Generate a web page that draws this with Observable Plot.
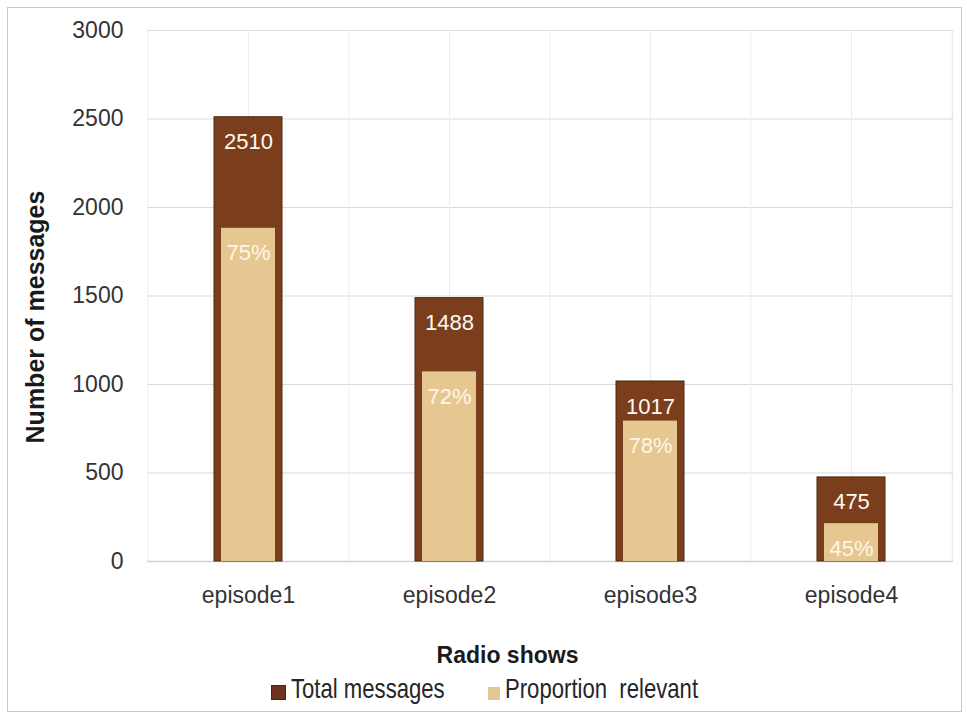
<!DOCTYPE html>
<html>
<head>
<meta charset="utf-8">
<script src="https://cdn.jsdelivr.net/npm/d3@7"></script>
<script src="https://cdn.jsdelivr.net/npm/@observablehq/plot@0.6"></script>
<style>
  html, body { margin: 0; padding: 0; background: #fff; }
  #wrap { position: relative; width: 967px; height: 719px; overflow: hidden; font-family: "Liberation Sans", Arial, sans-serif; }
  #frame { position: absolute; left: 7px; top: 7px; width: 955px; height: 705px; border: 1px solid #c9c9c9; box-sizing: border-box; pointer-events: none; }
  #chart svg { display: block; }
  #legend { position: absolute; left: 0; top: 670px; width: 967px; height: 49px; }
  .sw { position: absolute; box-sizing: border-box; }
  .lt { position: absolute; font-size: 28px; line-height: 28px; color: #262626; white-space: pre; transform: scaleX(0.79); transform-origin: left top; }
</style>
</head>
<body>
<div id="wrap">
  <div id="chart"></div>
  <div id="legend"></div>
  <div id="frame"></div>
</div>
<script>
const episodes = ["episode1", "episode2", "episode3", "episode4"];
const totals = [2510, 1488, 1017, 475];
const percents = [75, 72, 78, 45];
const yTicks = [0, 500, 1000, 1500, 2000, 2500, 3000];
const seriesNames = ["Total messages", "Proportion  relevant"];
const xTitle = "Radio shows";
const yTitle = "Number of messages";

const darkColor = "#7a3e1c";
const lightColor = "#e6c792";

const data = episodes.map((e, i) => ({
  episode: e,
  total: totals[i],
  pct: percents[i],
  relevant: totals[i] * percents[i] / 100
}));

const W = 967, H = 670, mL = 147, mR = 14, mT = 30, mB = 109;
const step = (W - mL - mR) / episodes.length;
const font = "'Liberation Sans', Arial, sans-serif";

const chart = Plot.plot({
  width: W,
  height: H,
  marginLeft: mL,
  marginRight: mR,
  marginTop: mT,
  marginBottom: mB,
  style: { fontFamily: font, fontSize: "23px", background: "white", overflow: "visible" },
  x: { domain: episodes, paddingInner: 0.66, paddingOuter: 0.33, label: null },
  y: { domain: [0, 3000], label: null },
  marks: [
    Plot.gridY(yTicks, { stroke: "#dadada", strokeOpacity: 1, strokeWidth: 1.2 }),
    Plot.ruleX(episodes, { x: d => d, stroke: "#ececec", strokeWidth: 1 }),
    Plot.ruleX(episodes, { x: d => d, dx: -step / 2, stroke: "#ececec", strokeWidth: 1 }),
    Plot.ruleX(episodes.slice(-1), { x: d => d, dx: step / 2, stroke: "#e4e4e4", strokeWidth: 1 }),
    Plot.ruleY([0], { stroke: "#d0d0d0", strokeWidth: 1.5 }),
    Plot.barY(data, { x: "episode", y: "total", fill: darkColor, stroke: "#4a2812", strokeWidth: 1 }),
    Plot.barY(data, { x: "episode", y: "relevant", fill: lightColor, insetLeft: 7, insetRight: 7 }),
    Plot.text(data, { x: "episode", y: "total", text: d => String(d.total), dy: 25, fill: "#fff9f0", fontSize: 22 }),
    Plot.text(data, { x: "episode", y: "relevant", text: d => d.pct + "%", dy: 25, fill: "#fff6e6", fontSize: 22 }),
    Plot.axisY(yTicks, { tickSize: 0, tickPadding: 24, fontSize: 23, fill: "#333", label: null, tickFormat: d3.format("d") }),
    Plot.axisX({ tickSize: 0, tickPadding: 25, fontSize: 23, fill: "#333", label: null }),
    Plot.text([yTitle], { frameAnchor: "left", textAnchor: "middle", lineAnchor: "middle", rotate: -90, dx: -112, dy: 21, fontSize: 25, fontWeight: "bold", fill: "#1a1a1a" }),
    Plot.text([xTitle], { frameAnchor: "bottom", textAnchor: "middle", lineAnchor: "middle", dx: -43, dy: 94, fontSize: 23, fontWeight: "bold", fill: "#1a1a1a" })
  ]
});
document.getElementById("chart").appendChild(chart);

// legend
const legend = document.getElementById("legend");
const items = [
  { name: seriesNames[0], color: "#6e3420", border: "#4a2210", sx: 271, sy: 15, sw: 15, sh: 15, tx: 291 },
  { name: seriesNames[1], color: "#e2c993", border: "#e2c993", sx: 488, sy: 17, sw: 12, sh: 13, tx: 505 }
];
items.forEach(it => {
  const s = document.createElement("div");
  s.className = "sw";
  s.style.left = it.sx + "px";
  s.style.top = it.sy + "px";
  s.style.width = it.sw + "px";
  s.style.height = it.sh + "px";
  s.style.background = it.color;
  s.style.border = "1px solid " + it.border;
  legend.appendChild(s);
  const t = document.createElement("div");
  t.className = "lt";
  t.style.left = it.tx + "px";
  t.style.top = "5px";
  t.textContent = it.name;
  legend.appendChild(t);
});
</script>
</body>
</html>
